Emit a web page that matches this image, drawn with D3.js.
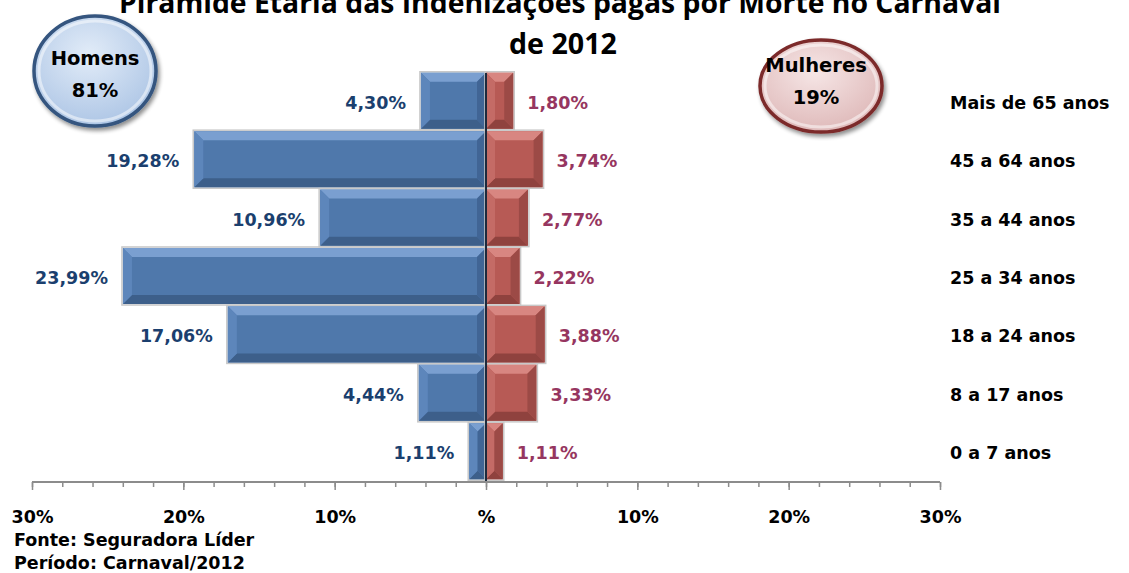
<!DOCTYPE html>
<html><head><meta charset="utf-8">
<script src="https://cdn.jsdelivr.net/npm/d3@7"></script>
<style>
html,body{margin:0;padding:0;background:#fff;}
svg{display:block;font-family:"DejaVu Sans",sans-serif;font-weight:bold;}
</style></head>
<body>
<script>
const categories = ["Mais de 65 anos","45 a 64 anos","35 a 44 anos","25 a 34 anos","18 a 24 anos","8 a 17 anos","0 a 7 anos"];
const homens = [4.30,19.28,10.96,23.99,17.06,4.44,1.11];
const mulheres = [1.80,3.74,2.77,2.22,3.88,3.33,1.11];
const homensLabels = ["4,30%","19,28%","10,96%","23,99%","17,06%","4,44%","1,11%"];
const mulheresLabels = ["1,80%","3,74%","2,77%","2,22%","3,88%","3,33%","1,11%"];
const majorTicks = [-30,-20,-10,0,10,20,30];
const majorTickLabels = ["30%","20%","10%","%","10%","20%","30%"];
const minorTicks = d3.range(-30,31,2);
const titleLines = ["Pirâmide Etária das Indenizações pagas por Morte no Carnaval","de 2012"];
const totals = [{name:"Homens",pct:"81%"},{name:"Mulheres",pct:"19%"}];
const footer = ["Fonte: Seguradora Líder","Período: Carnaval/2012"];

const W=1129,H=573;
const svg=d3.select("body").append("svg").attr("width",W).attr("height",H);
const defs=svg.append("defs");

const x=d3.scaleLinear().domain([-30,30]).range([32,940]);
const y=d3.scaleBand().domain(categories).range([71,481]).paddingInner(0.04).paddingOuter(0.03);

function radial(id,c0,c1){
  const g=defs.append("radialGradient").attr("id",id).attr("cx","45%").attr("cy","35%").attr("r","70%");
  g.append("stop").attr("offset","0%").attr("stop-color",c0);
  g.append("stop").attr("offset","100%").attr("stop-color",c1);
}
radial("gBlue","#e2ecf8","#aac3e4");
radial("gRed","#f6e6e6","#ddb6b6");
const f=defs.append("filter").attr("id","sh").attr("x","-20%").attr("y","-20%").attr("width","150%").attr("height","150%");
f.append("feGaussianBlur").attr("in","SourceAlpha").attr("stdDeviation",2);
f.append("feOffset").attr("dx",1.5).attr("dy",2.5).attr("result","ob");
f.append("feComponentTransfer").append("feFuncA").attr("type","linear").attr("slope",0.45);
const fm=f.append("feMerge");fm.append("feMergeNode");fm.append("feMergeNode").attr("in","SourceGraphic");

// title
const tf="'Open Sans',sans-serif";
svg.append("text").attr("x",560).attr("y",13).attr("text-anchor","middle").attr("font-size",29).attr("font-family",tf)
  .attr("textLength",882).attr("lengthAdjust","spacingAndGlyphs").text(titleLines[0]);
svg.append("text").attr("x",563).attr("y",54).attr("text-anchor","middle").attr("font-size",29).attr("font-family",tf)
  .attr("textLength",108).attr("lengthAdjust","spacingAndGlyphs").text(titleLines[1]);

// bubbles
const bub=[{cx:95,cy:71,rx:61,ry:55,fill:"url(#gBlue)",stroke:"#34557f",tx:0,ty:[65,97]},
           {cx:821,cy:86,rx:61,ry:46,fill:"url(#gRed)",stroke:"#7b2a2a",tx:-5,ty:[72,104]}];
totals.forEach((t,i)=>{
  const b=bub[i];
  const g=svg.append("g");
  g.append("ellipse").attr("cx",b.cx).attr("cy",b.cy).attr("rx",b.rx).attr("ry",b.ry)
   .attr("fill",b.fill).attr("stroke",b.stroke).attr("stroke-width",3.5).attr("filter","url(#sh)");
  g.append("ellipse").attr("cx",b.cx).attr("cy",b.cy).attr("rx",b.rx-5).attr("ry",b.ry-5)
   .attr("fill","none").attr("stroke","#ffffff").attr("stroke-opacity",0.5).attr("stroke-width",3);
  g.append("text").attr("x",b.cx+b.tx).attr("y",b.ty[0]).attr("text-anchor","middle").attr("font-size",19.5).attr("fill","#000").text(t.name);
  g.append("text").attr("x",b.cx+b.tx).attr("y",b.ty[1]).attr("text-anchor","middle").attr("font-size",19.5).attr("fill","#000").text(t.pct);
});

function bevel(g,x0,x1,y0,y1,c){
  const b=Math.min(9,(x1-x0)/2,(y1-y0)/2);
  g.append("rect").attr("x",x0-1).attr("y",y0-1).attr("width",x1-x0+2).attr("height",y1-y0+2)
    .attr("fill","none").attr("stroke","#c8c8c8").attr("stroke-width",1.5);
  g.append("rect").attr("x",x0).attr("y",y0).attr("width",x1-x0).attr("height",y1-y0).attr("fill",c.face);
  const P=pts=>pts.map(p=>p.join(",")).join(" ");
  g.append("polygon").attr("points",P([[x0,y0],[x1,y0],[x1-b,y0+b],[x0+b,y0+b]])).attr("fill",c.top);
  g.append("polygon").attr("points",P([[x0,y1],[x1,y1],[x1-b,y1-b],[x0+b,y1-b]])).attr("fill",c.bot);
  g.append("polygon").attr("points",P([[x0,y0],[x0+b,y0+b],[x0+b,y1-b],[x0,y1]])).attr("fill",c.left);
  g.append("polygon").attr("points",P([[x1,y0],[x1-b,y0+b],[x1-b,y1-b],[x1,y1]])).attr("fill",c.right);
}
const blue={face:"#4f78ab",top:"#7a9fd0",bot:"#3d5f8a",left:"#5d86bb",right:"#416595"};
const red={face:"#b75a55",top:"#d88681",bot:"#8f423e",left:"#c46b66",right:"#9c4a46"};

const bars=svg.append("g");
categories.forEach((cat,i)=>{
  const y0=y(cat), y1=y(cat)+y.bandwidth();
  bevel(bars,x(-homens[i]),x(0),y0,y1,blue);
  bevel(bars,x(0),x(mulheres[i]),y0,y1,red);
});

svg.append("line").attr("x1",x(0)).attr("x2",x(0)).attr("y1",y.range()[0]+2).attr("y2",482)
  .attr("stroke","#1c2a3e").attr("stroke-width",2);

const lab=svg.append("g").attr("font-size",17.5);
categories.forEach((cat,i)=>{
  const cy=y(cat)+y.bandwidth()/2+8;
  lab.append("text").attr("x",x(-homens[i])-15).attr("y",cy).attr("text-anchor","end").attr("fill","#1b3f6e").text(homensLabels[i]);
  lab.append("text").attr("x",x(mulheres[i])+14).attr("y",cy).attr("fill","#963660").text(mulheresLabels[i]);
  lab.append("text").attr("x",950).attr("y",cy).attr("fill","#000").text(cat);
});

const axY=482;
const minorAx=d3.axisBottom(x).tickValues(minorTicks).tickSize(5).tickFormat("");
const gMin=svg.append("g").attr("transform",`translate(0,${axY})`).call(minorAx);
const majorAx=d3.axisBottom(x).tickValues(majorTicks).tickSize(8).tickPadding(24)
  .tickFormat((d,i)=>majorTickLabels[i]);
const gMaj=svg.append("g").attr("transform",`translate(0,${axY})`).call(majorAx);
[gMin,gMaj].forEach(g=>{
  g.selectAll("path.domain").attr("stroke","#8c8c8c").attr("stroke-width",2).attr("d",`M${x(-30)},0H${x(30)}`);
  g.selectAll(".tick line").attr("stroke","#8c8c8c").attr("stroke-width",1.5);
});
gMaj.selectAll(".tick text").attr("font-size",17.5).attr("font-weight","bold").attr("fill","#000")
  .attr("font-family","'DejaVu Sans',sans-serif").attr("y",41).attr("dy",0);

svg.append("text").attr("x",14).attr("y",546).attr("font-size",17.5).attr("fill","#000").text(footer[0]);
svg.append("text").attr("x",14).attr("y",569).attr("font-size",17.5).attr("fill","#000").text(footer[1]);
</script>
</body></html>
